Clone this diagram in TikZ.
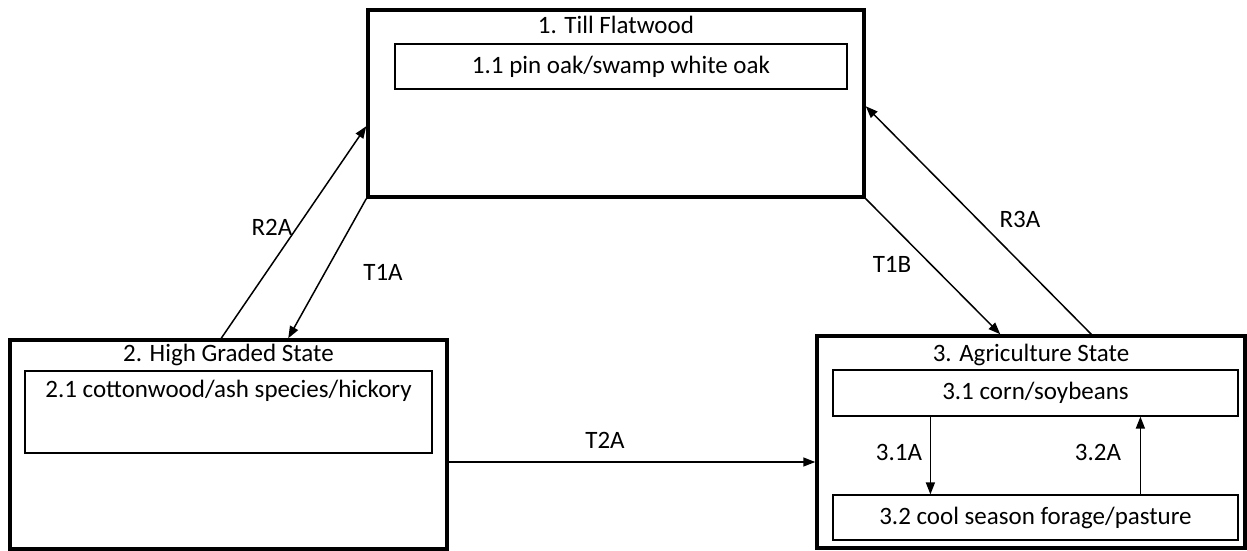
\documentclass[tikz,border=0pt]{standalone}
\usepackage{fontspec}
\setmainfont{Carlito}
\usetikzlibrary{positioning,arrows.meta}

\begin{document}
\begin{tikzpicture}[
  x=1pt, y=-1pt,
  font=\fontsize{25}{29}\selectfont,
  state/.style={draw, line width=3.5pt, inner sep=0pt},
  phase/.style={draw, line width=1.2pt, inner sep=0pt},
  arr/.style={-{Triangle[length=12pt,width=9pt]}, line width=1.5pt}
]
\useasboundingbox (0,0) rectangle (1247,551);

% states
\node[state, minimum width=496pt, minimum height=187pt] (s1) at (616,103.5) {};
\node[state, minimum width=437pt, minimum height=209pt] (s2) at (228.5,444.5) {};
\node[state, minimum width=428pt, minimum height=212pt] (s3) at (1031,442) {};

\node (t1) at (616,25) {1. Till Flatwood};
\node (t2) at (228.5,355) {2. High Graded State};
\node (t3) at (1031,355) {3. Agriculture State};

% community phases
\node[phase, minimum width=452pt, minimum height=45pt] (p11) at (621,66.5) {1.1 pin oak/swamp white oak};
\node[phase, minimum width=407pt, minimum height=82pt] (p21) at (228.5,412) {};
\node (p21t) at (228.5,391) {2.1 cottonwood/ash species/hickory};
\node[phase, minimum width=405pt, minimum height=46pt] (p31) at (1035.5,393) {3.1 corn/soybeans};
\node[phase, minimum width=405pt, minimum height=45pt] (p32) at (1035.5,517.5) {3.2 cool season forage/pasture};

% transitions
\draw[arr] ([xshift=213pt]s2.north west) -- ([yshift=-118pt]s1.north west);
\draw[arr] (s1.south west) -- ([xshift=280pt]s2.north west);
\draw[arr] (s1.south east) -- ([xshift=185pt]s3.north west);
\draw[arr] ([xshift=276pt]s3.north west) -- ([yshift=-98pt]s1.north east);
\draw[arr] ([yshift=-17.5pt]s2.east) -- ([yshift=-17.5pt]s2.east -| s3.west);
\draw[arr] ([xshift=98pt]p31.south west) -- ([xshift=98pt]p32.north west);
\draw[arr] ([xshift=308pt]p32.north west) -- ([xshift=308pt]p31.south west);

\node (r2a) at (272,227) {R2A};
\node (t1a) at (383,272) {T1A};
\node (t1b) at (892,264) {T1B};
\node (r3a) at (1020,219) {R3A};
\node (t2a) at (605,440) {T2A};
\node (a31) at (899,452) {3.1A};
\node (a32) at (1098,452) {3.2A};
\end{tikzpicture}
\end{document}
